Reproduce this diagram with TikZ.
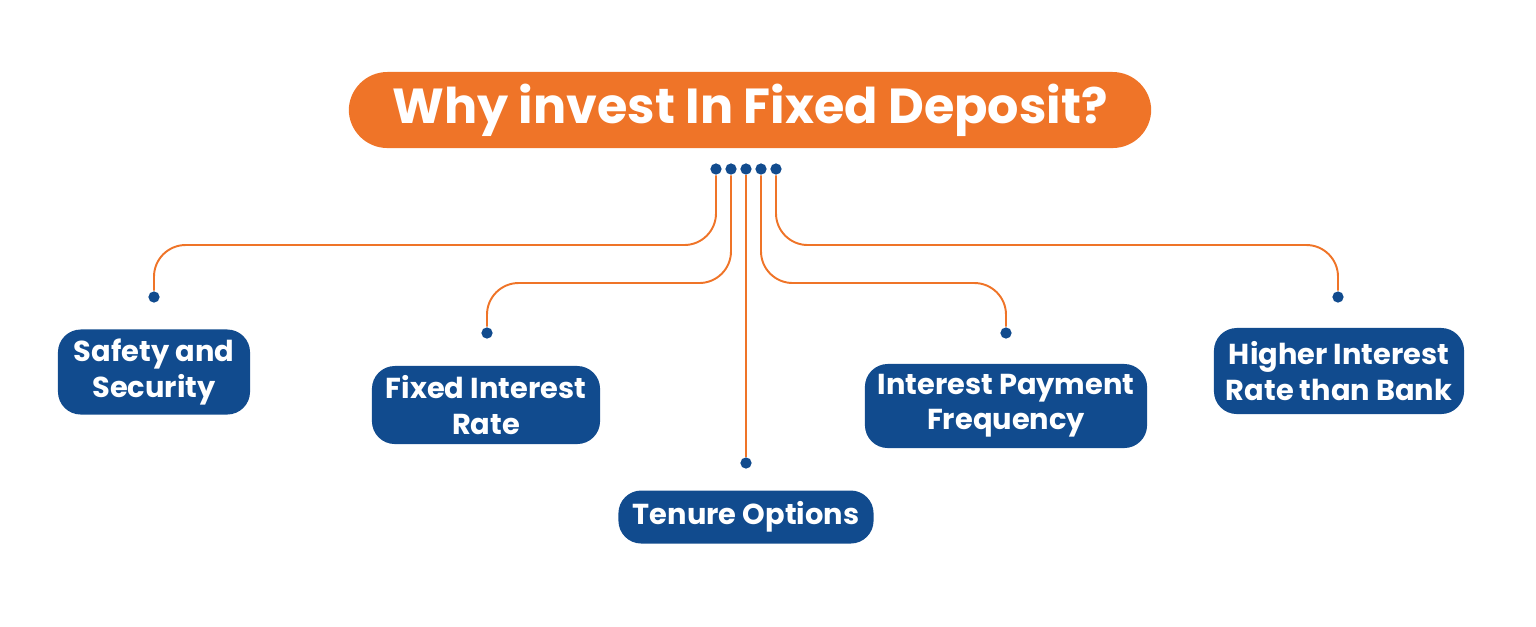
\documentclass[tikz,border=0pt]{standalone}
\usepackage{fontspec}
\setmainfont{Poppins}
\usetikzlibrary{positioning}
\definecolor{fdorange}{HTML}{EF7428}
\definecolor{fdblue}{HTML}{114B8E}
\begin{document}
\begin{tikzpicture}[x=0.01cm, y=-0.01cm,
    reason/.style={rectangle, rounded corners=6.5pt, fill=fdblue, text=white, align=center,
        font=\fontsize{8.2pt}{10pt}\selectfont\bfseries, inner sep=0pt},
    link/.style={draw=fdorange, line width=0.55pt, rounded corners=9pt},
    pin/.style={circle, fill=fdblue, inner sep=0pt, minimum size=3.2pt}]
    \useasboundingbox (0,0) rectangle (1536,626);

    % Title
    \node (title) [rectangle, rounded corners=11pt, fill=fdorange, text=white,
        font=\fontsize{14pt}{16pt}\selectfont\bfseries, minimum width=8.02cm, minimum height=0.76cm]
        at (750,110) {Why invest In Fixed Deposit?};

    % Top pins
    \foreach \i/\x in {a/716, b/731, c/746, d/761, e/776}
        \node (top\i) [pin] at (\x,169) {};

    % Reasons
    \node (safety) [reason, minimum width=1.92cm, minimum height=0.85cm] at (154,372) {Safety and\\Security};
    \node (fixed) [reason, minimum width=2.28cm, minimum height=0.78cm] at (486,405) {Fixed Interest\\Rate};
    \node (tenure) [reason, minimum width=2.55cm, minimum height=0.53cm] at (746,517) {Tenure Options};
    \node (payment) [reason, minimum width=2.82cm, minimum height=0.84cm] at (1006,406) {Interest Payment\\Frequency};
    \node (higher) [reason, minimum width=2.50cm, minimum height=0.86cm] at (1339,371) {Higher Interest\\Rate than Bank};

    % Bottom pins
    \node (pina) [pin] at (154,297) {};
    \node (pinb) [pin] at (487,333) {};
    \node (pinc) [pin] at (746,463) {};
    \node (pind) [pin] at (1006,333) {};
    \node (pine) [pin] at (1338,297) {};

    % Connectors
    \draw[link] (topa) |- (pina |- 0,245) -- (pina);
    \draw[link] (topb) |- (pinb |- 0,283) -- (pinb);
    \draw[link] (topc) -- (pinc);
    \draw[link] (topd) |- (pind |- 0,283) -- (pind);
    \draw[link] (tope) |- (pine |- 0,245) -- (pine);
\end{tikzpicture}
\end{document}
